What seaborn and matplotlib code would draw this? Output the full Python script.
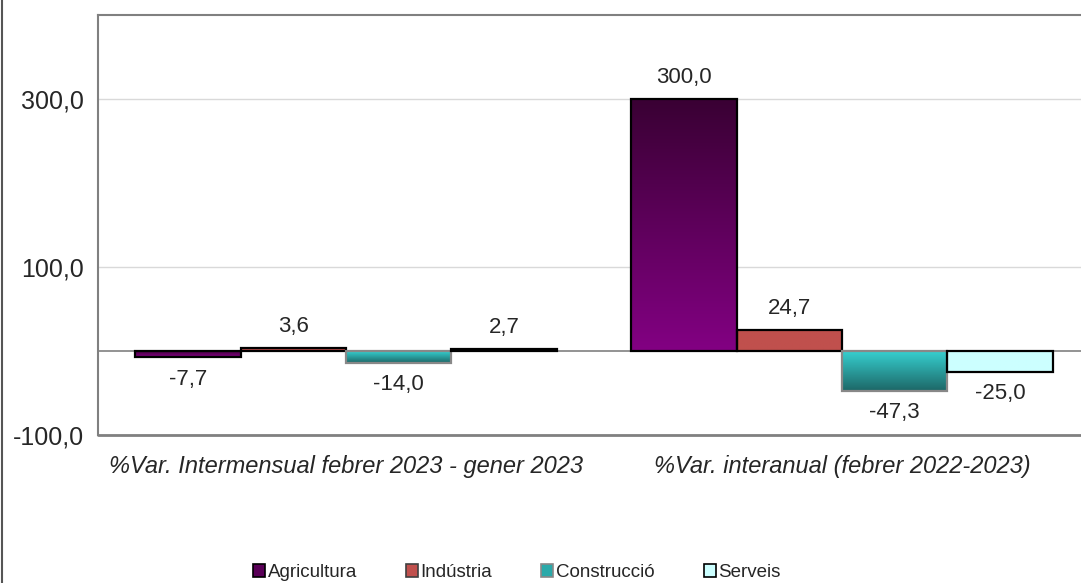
import numpy as np
import pandas as pd
import matplotlib.pyplot as plt
import matplotlib.colors as mcolors
from matplotlib.lines import Line2D
from matplotlib.patches import Patch
import seaborn as sns

# data
periods = ['%Var. Intermensual febrer 2023 - gener 2023',
           '%Var. interanual (febrer 2022-2023)']
sectors = ['Agricultura', 'Indústria', 'Construcció', 'Serveis']
agricultura = [-7.7, 300.0]
industria = [3.6, 24.7]
construccio = [-14.0, -47.3]
serveis = [2.7, -25.0]

df = pd.DataFrame({
    'periode': periods * 4,
    'sector': [s for s in sectors for _ in periods],
    'valor': agricultura + industria + construccio + serveis,
})

# gradient (top colour, bottom colour) and edge colour per sector
grad = {
    'Agricultura': ('#3a0034', '#820082'),
    'Indústria': ('#c0504d', '#c0504d'),
    'Construcció': ('#36cfcf', '#1d6767'),
    'Serveis': ('#ccffff', '#ccffff'),
}
edges = {'Agricultura': 'black', 'Indústria': 'black',
         'Construcció': '#888888', 'Serveis': 'black'}
legend_face = {'Agricultura': '#5a0058', 'Indústria': '#c0504d',
               'Construcció': '#2aa9a9', 'Serveis': '#ccffff'}

sns.set_style('white')
plt.rcParams['font.family'] = ['Liberation Sans', 'DejaVu Sans']

fig = plt.figure(figsize=(10.81, 5.83), dpi=100)
# plot area runs a little past the right edge of the picture, as in the original
ax = fig.add_axes([98 / 1081, 148 / 583, 992 / 1081, 420 / 583])

sns.barplot(data=df, x='periode', y='valor', hue='sector', hue_order=sectors,
            order=periods, width=0.85, palette=['w'] * 4, ax=ax, legend=False)

ax.set_xlim(-0.5, 1.5)
ax.set_ylim(-100, 400)

# gradient fills clipped to the bars
for cont, sec in zip(ax.containers, sectors):
    top_c, bot_c = grad[sec]
    cmap = mcolors.LinearSegmentedColormap.from_list(sec, [top_c, bot_c])
    for p in cont.patches:
        x0, y0 = p.get_x(), p.get_y()
        w, h = p.get_width(), p.get_height()
        lo, hi = min(y0, y0 + h), max(y0, y0 + h)
        img = np.linspace(0, 1, 64).reshape(-1, 1)
        im = ax.imshow(img, cmap=cmap, extent=[x0, x0 + w, lo, hi], origin='upper',
                       aspect='auto', zorder=2, interpolation='bilinear')
        im.set_clip_path(p)
        p.set_facecolor('none')
        p.set_edgecolor(edges[sec])
        p.set_linewidth(1.6)
        p.set_zorder(3)
    ax.bar_label(cont, labels=[f'{v:.1f}'.replace('.', ',') for v in cont.datavalues],
                 padding=8, fontsize=16)

ax.set_xlim(-0.5, 1.5)
ax.set_ylim(-100, 400)

# zero line with the middle category tick
ax.axhline(0, color='#808080', lw=1.2, zorder=1)
ax.set_xticks([0.5])
ax.set_xticklabels([])
ax.spines['bottom'].set_position(('data', 0))
ax.spines['bottom'].set_visible(False)
ax.tick_params(axis='x', direction='out', length=6, color='#808080', width=1)
ax.axhline(-100, color='#808080', lw=2, zorder=1, clip_on=False)

for i, lab in enumerate(periods):
    ax.text(i, -0.075, lab, transform=ax.get_xaxis_transform(), ha='center',
            va='center', style='italic', fontsize=17)

ax.set_yticks([-100, 100, 300])
ax.set_yticklabels([f'{v:.1f}'.replace('.', ',') for v in [-100, 100, 300]],
                   fontsize=18)
ax.tick_params(axis='y', direction='out', length=7, color='#808080', width=1, pad=3)
ax.yaxis.grid(True, color='#d9d9d9', lw=1)
ax.set_axisbelow(True)
ax.set_xlabel('')
ax.set_ylabel('')

for s in ['left', 'top']:
    ax.spines[s].set_color('#808080')
    ax.spines[s].set_linewidth(1.5)
ax.spines['right'].set_visible(False)

# figure border on the left edge
fig.add_artist(Line2D([0.002, 0.002], [0, 1], transform=fig.transFigure,
                      color='#555555', lw=1.5))

handles = [Patch(facecolor=legend_face[s], edgecolor=edges[s] if s != 'Indústria' else '#404040',
                 lw=1.2) for s in sectors]
fig.legend(handles, sectors, loc='center', bbox_to_anchor=(0.478, 0.018),
           ncol=4, frameon=False, fontsize=13.5, handlelength=0.65, handleheight=0.65,
           handletextpad=0.15, columnspacing=2.6, borderaxespad=0)

fig.savefig('out.png', dpi=100)
